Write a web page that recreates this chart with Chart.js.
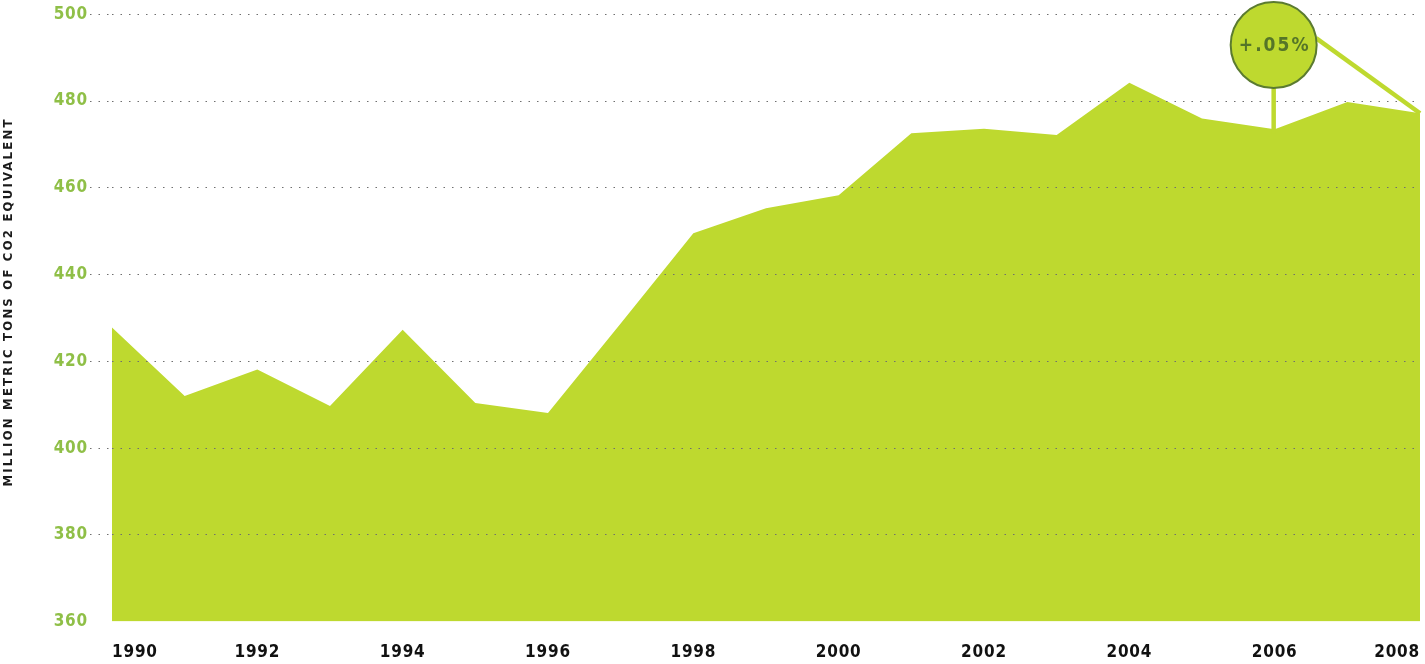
<!DOCTYPE html>
<html lang="en">
<head>
    <meta charset="UTF-8">
    <title>Emissions</title>
    <script src="https://cdn.jsdelivr.net/npm/chart.js"></script>
    <style>
        html, body { margin: 0; padding: 0; background: #fff; overflow: hidden; }
        canvas { display: block; }
    </style>
</head>
<body>
<canvas id="myAreaChart" width="1425" height="664"></canvas>
<script>
    // data
    const years = ['1990','1991','1992','1993','1994','1995','1996','1997','1998','1999',
                   '2000','2001','2002','2003','2004','2005','2006','2007','2008'];
    const emissions = [427.8, 412.0, 418.1, 409.7, 427.3, 410.4, 408.1, 428.7, 449.5, 455.3,
                       458.3, 472.6, 473.6, 472.2, 484.2, 476.0, 473.5, 479.8, 477.2];
    const yMin = 360, yMax = 500, yStep = 20;
    const axisTitle = 'MILLION METRIC TONS OF CO2 EQUIVALENT';
    const calloutText = '+.05%';
    const calloutYear = '2006';   // stem under the bubble
    const calloutLevel = 492.9;   // bubble centre
    const calloutEnd = '2008';    // the diagonal runs to this point

    const green = '#bed92f';
    const darkGreen = '#5b7b30';

    // letter spacing for the DIN-like labels
    const spacing = {
        id: 'spacing',
        beforeUpdate(chart) { chart.ctx.letterSpacing = '0.8px'; },
        beforeDraw(chart) { chart.ctx.letterSpacing = '0.8px'; }
    };

    // rotated axis title, bubble with "+.05%", its stem and the line to the last year
    const callout = {
        id: 'callout',
        afterDraw(chart) {
            const ctx = chart.ctx;
            const x = chart.scales.x, y = chart.scales.y;

            ctx.save();
            ctx.translate(9, 302);
            ctx.rotate(-Math.PI / 2);
            ctx.fillStyle = '#1a1a1a';
            ctx.font = 'bold 13px "DejaVu Sans Condensed"';
            ctx.letterSpacing = '2.2px';
            ctx.textAlign = 'center';
            ctx.textBaseline = 'middle';
            ctx.fillText(axisTitle, 0, 0);
            ctx.restore();

            const i = years.indexOf(calloutYear);
            const j = years.indexOf(calloutEnd);
            const cx = x.getPixelForValue(i) - 1;
            const cy = y.getPixelForValue(calloutLevel);
            const r = 43;
            ctx.save();
            ctx.strokeStyle = green;
            ctx.lineWidth = 4.5;
            // stem
            ctx.beginPath();
            ctx.moveTo(cx, cy + r);
            ctx.lineTo(cx, y.getPixelForValue(emissions[i]) + 4);
            ctx.stroke();
            // diagonal
            const ex = x.getPixelForValue(j), ey = y.getPixelForValue(emissions[j]);
            const a = Math.atan2(ey - cy, ex - cx) - 0.6;
            ctx.beginPath();
            ctx.moveTo(cx + r * Math.cos(a), cy + r * Math.sin(a));
            ctx.lineTo(ex, ey);
            ctx.stroke();
            // bubble
            ctx.beginPath();
            ctx.arc(cx, cy, r, 0, Math.PI * 2);
            ctx.fillStyle = green;
            ctx.fill();
            ctx.lineWidth = 2;
            ctx.strokeStyle = darkGreen;
            ctx.stroke();
            ctx.fillStyle = '#557528';
            ctx.font = 'bold 19px "DejaVu Sans Condensed"';
            ctx.letterSpacing = '2px';
            ctx.textAlign = 'center';
            ctx.textBaseline = 'middle';
            ctx.fillText(calloutText, cx + 1, cy + 1);
            ctx.restore();
        }
    };

    const gridColor = (c) => (c.tick && c.tick.value === yMin) ? 'rgba(0,0,0,0)' : '#6f6f6f';

    var ctxArea = document.getElementById('myAreaChart').getContext('2d');
    var myAreaChart = new Chart(ctxArea, {
        type: 'line',
        data: {
            labels: years,
            datasets: [{
                data: emissions,
                fill: 'start',
                backgroundColor: green,
                borderWidth: 0,
                pointRadius: 0,
                tension: 0
            }]
        },
        options: {
            responsive: false,
            animation: false,
            devicePixelRatio: 1,
            layout: { padding: { top: 14.3, right: 5, bottom: 1, left: 0 } },
            plugins: {
                legend: { display: false },
                tooltip: { enabled: false }
            },
            scales: {
                x: {
                    grid: { display: false, drawTicks: true, tickLength: 21 },
                    border: { display: false },
                    ticks: {
                        autoSkip: false,
                        maxRotation: 0,
                        align: 'inner',
                        padding: 0,
                        color: '#111',
                        font: { family: 'DejaVu Sans Condensed', size: 17, weight: 'bold' },
                        callback: (v, i) => i % 2 === 0 ? years[i] : ''
                    }
                },
                y: {
                    min: yMin,
                    max: yMax,
                    afterFit: (s) => { s.width = 112; },
                    ticks: {
                        stepSize: yStep,
                        padding: 2,
                        color: '#8fbf47',
                        font: { family: 'DejaVu Sans Condensed', size: 17, weight: 'bold' }
                    },
                    grid: {
                        z: 1,
                        color: gridColor,
                        tickColor: gridColor,
                        lineWidth: 1,
                        tickLength: 22,
                        tickBorderDash: [1.5, 7]
                    },
                    border: { display: false, dash: [1.5, 7] }
                }
            }
        },
        plugins: [spacing, callout]
    });
</script>
</body>
</html>
